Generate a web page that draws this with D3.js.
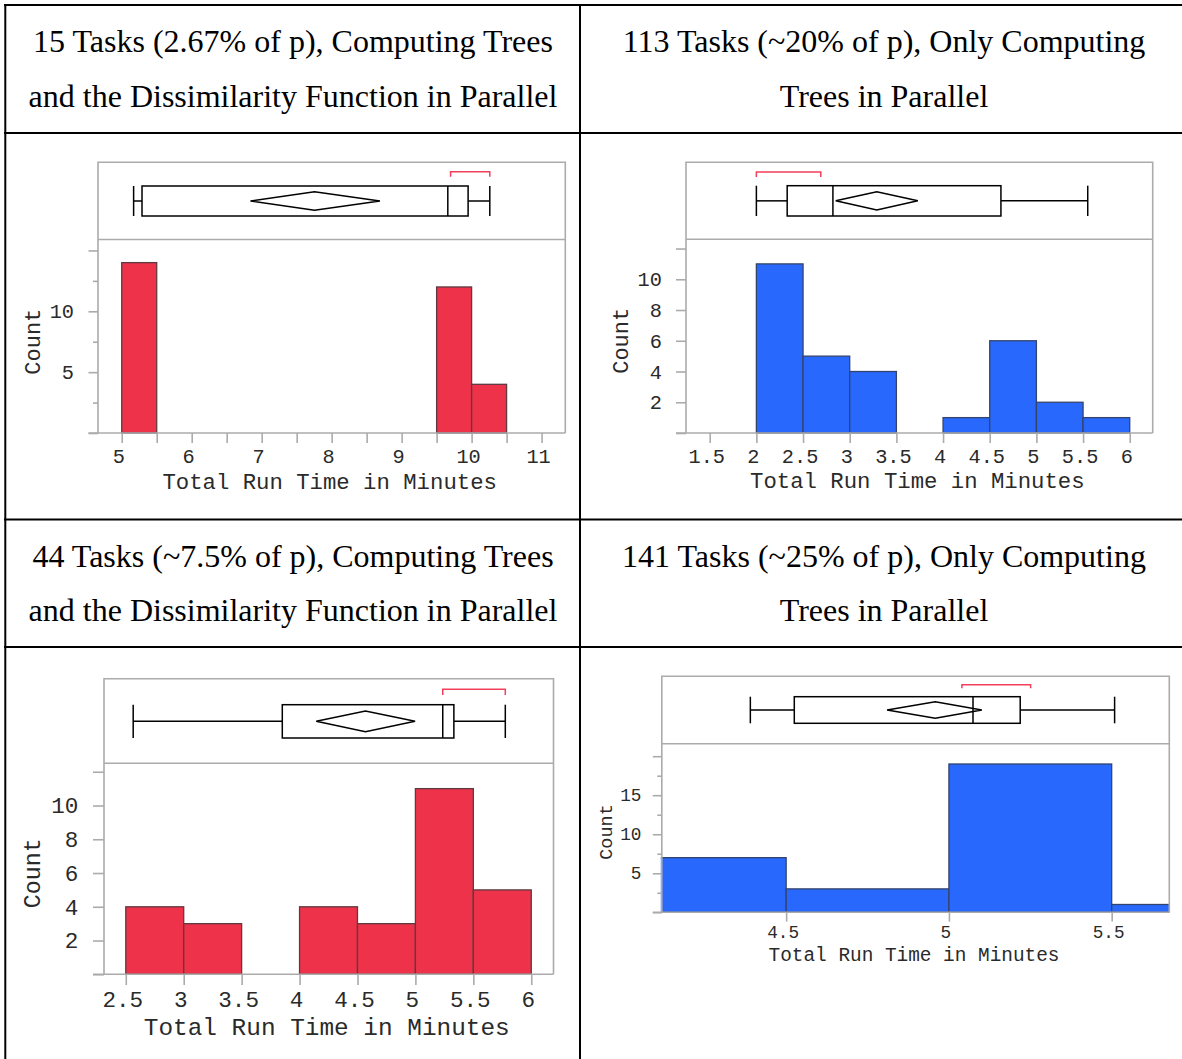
<!DOCTYPE html>
<html>
<head>
<meta charset="utf-8">
<script src="https://cdn.jsdelivr.net/npm/d3@7"></script>
<style>
  body { margin: 0; background: #fff; }
  svg { display: block; }
</style>
</head>
<body>
<svg id="fig" width="1182" height="1059"></svg>
<script>
// ---------- captions ----------
const captionA = ["15 Tasks (2.67% of p), Computing Trees", "and the Dissimilarity Function in Parallel"];
const captionB = ["113 Tasks (~20% of p), Only Computing", "Trees in Parallel"];
const captionC = ["44 Tasks (~7.5% of p), Computing Trees", "and the Dissimilarity Function in Parallel"];
const captionD = ["141 Tasks (~25% of p), Only Computing", "Trees in Parallel"];

const xTitle = "Total Run Time in Minutes";
const yTitle = "Count";
const binWidth = 0.5;

// ---------- 15 tasks ----------
const binStartsA = [5, 9.5, 10];
const countsA = [14, 12, 4];
const boxA = [5.17, 5.29, 9.66, 9.95, 10.26];      // whisker lo, Q1, median, Q3, whisker hi
const meanA = [6.84, 7.755, 8.69];                 // CI lo, mean, CI hi
const shortestHalfA = [9.70, 10.26];
const xDomainA = [4.661, 11.339];
const yDomainA = [0, 15.9];
const xTicksA = [5, 5.5, 6, 6.5, 7, 7.5, 8, 8.5, 9, 9.5, 10, 10.5, 11];
const xLabelsA = [5, 6, 7, 8, 9, 10, 11];
const yMinorA = [2.5, 7.5, 12.5];
const yMajorA = [0, 5, 10, 15];
const yLabelsA = [5, 10];

// ---------- 113 tasks ----------
const binStartsB = [2, 2.5, 3, 4, 4.5, 5, 5.5];
const countsB = [11, 5, 4, 1, 6, 2, 1];
const boxB = [2.0, 2.33, 2.82, 4.62, 5.55];
const meanB = [2.85, 3.29, 3.73];
const shortestHalfB = [2.0, 2.69];
const xDomainB = [1.246, 6.246];
const yDomainB = [0, 12.6];
const xTicksB = [1.5, 2, 2.5, 3, 3.5, 4, 4.5, 5, 5.5, 6];
const xLabelsB = [1.5, 2, 2.5, 3, 3.5, 4, 4.5, 5, 5.5, 6];
const yMinorB = [];
const yMajorB = [0, 2, 4, 6, 8, 10, 12];
const yLabelsB = [2, 4, 6, 8, 10];

// ---------- 44 tasks ----------
const binStartsC = [2.5, 3, 4, 4.5, 5, 5.5];
const countsC = [4, 3, 4, 3, 11, 5];
const boxC = [2.564, 3.851, 5.236, 5.332, 5.776];
const meanC = [4.144, 4.569, 4.997];
const shortestHalfC = [5.236, 5.776];
const xDomainC = [2.312, 6.192];
const yDomainC = [0, 12.5];
const xTicksC = [2.5, 3, 3.5, 4, 4.5, 5, 5.5, 6];
const xLabelsC = [2.5, 3, 3.5, 4, 4.5, 5, 5.5, 6];
const yMinorC = [];
const yMajorC = [0, 2, 4, 6, 8, 10, 12];
const yLabelsC = [2, 4, 6, 8, 10];

// ---------- 141 tasks ----------
const binStartsD = [4, 4.5, 5, 5.5];
const countsD = [7, 3, 19, 1];
const boxD = [4.39, 4.525, 5.074, 5.219, 5.509];
const meanD = [4.81, 4.958, 5.101];
const shortestHalfD = [5.04, 5.251];
const xDomainD = [4.118, 5.677];
const yDomainD = [0, 21.6];
const xTicksD = [4.5, 5, 5.5];
const xLabelsD = [4.5, 5, 5.5];
const yMinorD = [2.5, 7.5, 12.5, 17.5];
const yMajorD = [0, 5, 10, 15, 20];
const yLabelsD = [5, 10, 15];

// ---------- styling ----------
const RED = "#ee3249", RED_EDGE = "#5e3a42";
const BLUE = "#2968fd", BLUE_EDGE = "#33446c";
const FRAME = "#ababab";
const BRACKET = "#f2405a";
const INK = "#2a2a2a";
const MONO = "'Liberation Mono', 'Courier New', monospace";
const SERIF = "'Liberation Serif', 'Times New Roman', serif";

const svg = d3.select("#fig");
const fmt = d3.format("~g");

// ---------- table grid ----------
const grid = svg.append("g").attr("stroke", "#000").attr("stroke-width", 2).attr("fill", "none");
grid.append("line").attr("x1", 4).attr("x2", 1190).attr("y1", 5).attr("y2", 5);
grid.append("line").attr("x1", 5.3).attr("x2", 5.3).attr("y1", 4).attr("y2", 1060);
grid.append("line").attr("x1", 580).attr("x2", 580).attr("y1", 4).attr("y2", 1060);
grid.append("line").attr("x1", 1188).attr("x2", 1188).attr("y1", 4).attr("y2", 1060);
[133, 519.5, 647].forEach(yy =>
  grid.append("line").attr("x1", 4).attr("x2", 1190).attr("y1", yy).attr("y2", yy));

function caption(lines, cx, baselines) {
  svg.append("g")
    .attr("font-family", SERIF).attr("font-size", 32).attr("fill", "#000")
    .attr("text-anchor", "middle")
    .selectAll("text").data(lines).join("text")
    .attr("x", cx).attr("y", (d, i) => baselines[i]).text(d => d);
}
caption(captionA, 293, [52, 107]);
caption(captionB, 884, [52, 107]);
caption(captionC, 293, [567, 621]);
caption(captionD, 884, [567, 621]);

// ---------- histogram with box plot on top ----------
let clipCount = 0;
function histogram(spec, L) {
  const g = svg.append("g");
  const x = d3.scaleLinear().domain(spec.xDomain).range([L.left, L.right]);
  const y = d3.scaleLinear().domain(spec.yDomain).range([L.axisY, L.divY]);

  const clipId = "plotclip" + (clipCount++);
  g.append("clipPath").attr("id", clipId).append("rect")
    .attr("x", L.left - 1).attr("y", L.top)
    .attr("width", L.right - L.left + 1).attr("height", L.axisY - L.top + 1);

  // bars
  g.append("g").attr("clip-path", `url(#${clipId})`)
    .selectAll("rect").data(d3.zip(spec.binStarts, spec.counts)).join("rect")
    .attr("x", d => x(d[0]))
    .attr("width", d => x(d[0] + binWidth) - x(d[0]))
    .attr("y", d => y(d[1]))
    .attr("height", d => y(0) - y(d[1]))
    .attr("fill", spec.fill).attr("stroke", spec.edge).attr("stroke-width", 1.3);

  // frame: box panel + histogram panel
  const frame = g.append("g").attr("stroke", FRAME).attr("stroke-width", 1.6).attr("fill", "none");
  frame.append("path").attr("d",
    `M${L.left},${L.axisY}V${L.top}H${L.right}V${L.axisY}`);
  frame.append("line").attr("x1", L.left).attr("x2", L.right).attr("y1", L.divY).attr("y2", L.divY);
  frame.append("line").attr("x1", L.left - L.yMajor).attr("x2", L.right)
    .attr("y1", L.axisY).attr("y2", L.axisY);

  // y axis: minor and major ticks
  const styleAxis = sel => {
    sel.select(".domain").remove();
    sel.selectAll(".tick line").attr("stroke", FRAME).attr("stroke-width", 1.6);
    sel.selectAll(".tick text").attr("fill", INK);
  };
  g.append("g").attr("transform", `translate(${L.left},0)`)
    .call(d3.axisLeft(y).tickValues(spec.yMinor).tickSize(L.yMinor).tickFormat(""))
    .call(styleAxis);
  g.append("g").attr("transform", `translate(${L.left},0)`)
    .call(d3.axisLeft(y).tickValues(spec.yMajor).tickSize(L.yMajor)
      .tickPadding(L.yLabelGap - L.yMajor)
      .tickFormat(d => spec.yLabels.includes(d) ? fmt(d) : ""))
    .call(styleAxis)
    .call(s => s.attr("font-family", MONO).attr("font-size", L.tickFs));

  // x axis
  g.append("g").attr("transform", `translate(0,${L.axisY})`)
    .call(d3.axisBottom(x).tickValues(spec.xTicks).tickSize(L.xTick)
      .tickFormat(d => spec.xLabels.includes(d) ? fmt(d) : ""))
    .call(styleAxis)
    .call(s => s.attr("font-family", MONO).attr("font-size", L.tickFs))
    .call(s => s.selectAll(".tick text")
      .attr("y", L.xLabelY - L.axisY).attr("dy", null).attr("dx", -3.5));

  // titles
  g.append("text").attr("x", (L.left + L.right) / 2 + L.titleShift).attr("y", L.titleY)
    .attr("text-anchor", "middle").attr("font-family", MONO).attr("font-size", L.titleFs)
    .attr("fill", INK).text(xTitle);
  g.append("text").attr("transform", `translate(${L.countX},${L.countY}) rotate(-90)`)
    .attr("text-anchor", "middle").attr("font-family", MONO).attr("font-size", L.countFs)
    .attr("fill", INK).text(yTitle);

  // outlier box plot
  const [w0, q1, med, q3, w1] = spec.box;
  const [ciLo, mean, ciHi] = spec.mean;
  const cy = (L.boxY0 + L.boxY1) / 2;
  const bp = g.append("g").attr("stroke", "#000").attr("stroke-width", 1.5).attr("fill", "none");
  bp.append("line").attr("x1", x(w0)).attr("x2", x(q1)).attr("y1", cy).attr("y2", cy);
  bp.append("line").attr("x1", x(q3)).attr("x2", x(w1)).attr("y1", cy).attr("y2", cy);
  [w0, w1].forEach(v => bp.append("line").attr("x1", x(v)).attr("x2", x(v))
    .attr("y1", L.boxY0).attr("y2", L.boxY1));
  bp.append("rect").attr("x", x(q1)).attr("width", x(q3) - x(q1))
    .attr("y", L.boxY0).attr("height", L.boxY1 - L.boxY0).attr("fill", "#fff");
  bp.append("line").attr("x1", x(med)).attr("x2", x(med)).attr("y1", L.boxY0).attr("y2", L.boxY1);
  bp.append("path").attr("d",
    `M${x(ciLo)},${cy}L${x(mean)},${cy - L.diamondH}L${x(ciHi)},${cy}L${x(mean)},${cy + L.diamondH}Z`);

  // shortest half bracket
  const [s0, s1] = spec.shortestHalf;
  g.append("path").attr("fill", "none").attr("stroke", BRACKET).attr("stroke-width", 1.5)
    .attr("d", `M${x(s0)},${L.bracketY + L.bracketTick}V${L.bracketY}H${x(s1)}V${L.bracketY + L.bracketTick}`);
}

histogram(
  { binStarts: binStartsA, counts: countsA, box: boxA, mean: meanA, shortestHalf: shortestHalfA,
    xDomain: xDomainA, yDomain: yDomainA, xTicks: xTicksA, xLabels: xLabelsA,
    yMinor: yMinorA, yMajor: yMajorA, yLabels: yLabelsA, fill: RED, edge: RED_EDGE },
  { left: 98, right: 565.3, top: 162.3, divY: 239.5, axisY: 433,
    boxY0: 186, boxY1: 216, diamondH: 9.2, bracketY: 171.7, bracketTick: 5,
    yMajor: 9.5, yMinor: 5, xTick: 10, yLabelGap: 24,
    xLabelY: 463, titleY: 488.7, titleShift: -2, countX: 40, countY: 341.7,
    tickFs: 20.3, titleFs: 22.3, countFs: 22 });

histogram(
  { binStarts: binStartsB, counts: countsB, box: boxB, mean: meanB, shortestHalf: shortestHalfB,
    xDomain: xDomainB, yDomain: yDomainB, xTicks: xTicksB, xLabels: xLabelsB,
    yMinor: yMinorB, yMajor: yMajorB, yLabels: yLabelsB, fill: BLUE, edge: BLUE_EDGE },
  { left: 686, right: 1152.7, top: 162.3, divY: 239.3, axisY: 433,
    boxY0: 185.7, boxY1: 216, diamondH: 9.2, bracketY: 172, bracketTick: 5,
    yMajor: 10, yMinor: 5, xTick: 10, yLabelGap: 24.2,
    xLabelY: 463.3, titleY: 488.3, titleShift: -2, countX: 628, countY: 340.8,
    tickFs: 20.3, titleFs: 22.3, countFs: 22 });

histogram(
  { binStarts: binStartsC, counts: countsC, box: boxC, mean: meanC, shortestHalf: shortestHalfC,
    xDomain: xDomainC, yDomain: yDomainC, xTicks: xTicksC, xLabels: xLabelsC,
    yMinor: yMinorC, yMajor: yMajorC, yLabels: yLabelsC, fill: RED, edge: RED_EDGE },
  { left: 104, right: 553.5, top: 678.7, divY: 763.3, axisY: 974.3,
    boxY0: 704.7, boxY1: 738, diamondH: 10.3, bracketY: 689.3, bracketTick: 5.7,
    yMajor: 11, yMinor: 5.5, xTick: 10.7, yLabelGap: 25.6,
    xLabelY: 1006.7, titleY: 1035, titleShift: -2, countX: 40, countY: 873.3,
    tickFs: 22.6, titleFs: 24.4, countFs: 23.3 });

histogram(
  { binStarts: binStartsD, counts: countsD, box: boxD, mean: meanD, shortestHalf: shortestHalfD,
    xDomain: xDomainD, yDomain: yDomainD, xTicks: xTicksD, xLabels: xLabelsD,
    yMinor: yMinorD, yMajor: yMajorD, yLabels: yLabelsD, fill: BLUE, edge: BLUE_EDGE },
  { left: 661.8, right: 1169.3, top: 676.3, divY: 743.7, axisY: 912.3,
    boxY0: 696.7, boxY1: 723.3, diamondH: 8.3, bracketY: 684.7, bracketTick: 3.6,
    yMajor: 9, yMinor: 4.5, xTick: 9.3, yLabelGap: 20.4,
    xLabelY: 938.3, titleY: 961, titleShift: -1.5, countX: 611.5, countY: 832,
    tickFs: 17.7, titleFs: 19.4, countFs: 18.5 });
</script>
</body>
</html>
